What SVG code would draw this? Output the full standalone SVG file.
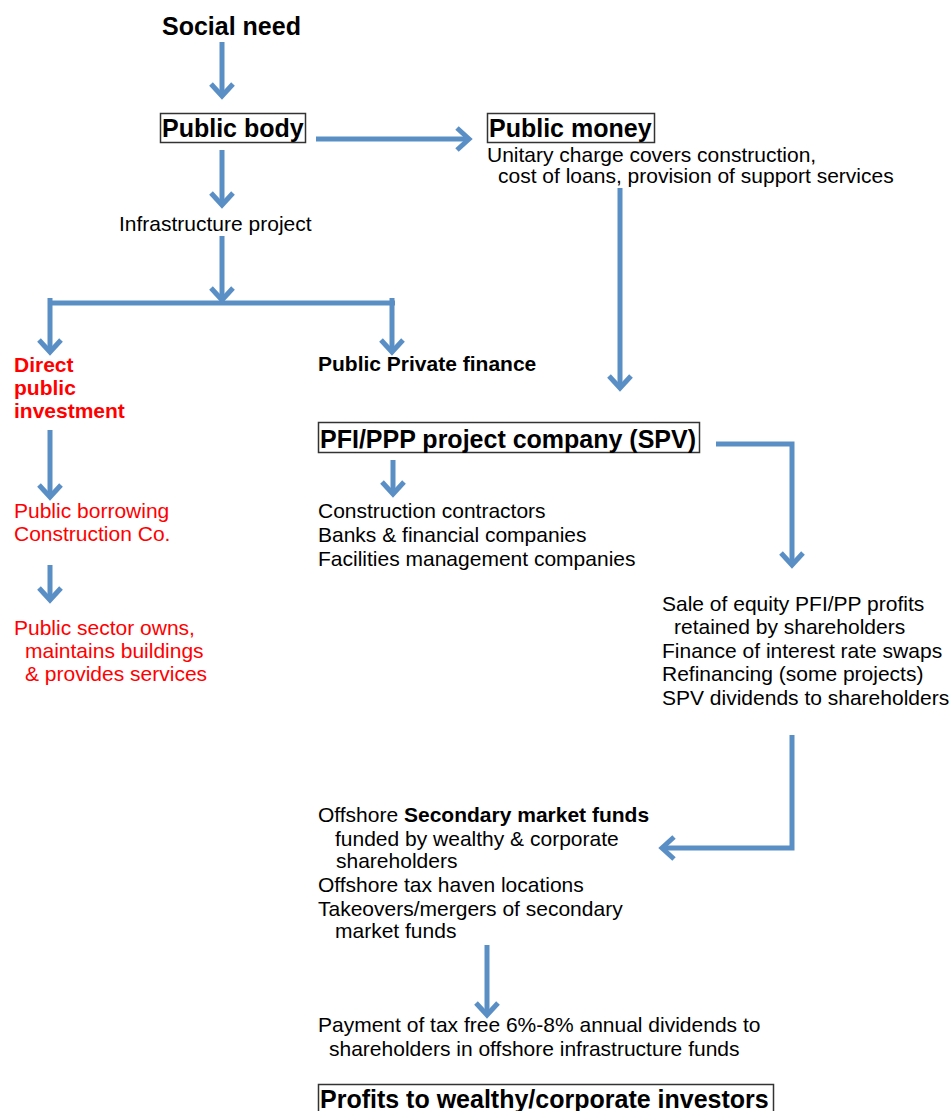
<svg xmlns="http://www.w3.org/2000/svg" width="950" height="1111" viewBox="0 0 950 1111">
<style>
text{font-family:"Liberation Sans",Arial,sans-serif;font-size:21px;fill:#000}
.b{font-weight:bold}
.h{font-weight:bold;font-size:25px}
.r{fill:#ff0000}
.box{fill:none;stroke:#333;stroke-width:1.5}
.c{fill:none;stroke:#5a8fc6;stroke-width:5;marker-end:url(#ah)}
.cn{fill:none;stroke:#5a8fc6;stroke-width:5}
</style>
<defs>
<marker id="ah" markerUnits="userSpaceOnUse" viewBox="-16 -14 20 28" refX="0" refY="0" markerWidth="20" markerHeight="28" orient="auto" overflow="visible">
<path d="M-12,-11 L0,0 L-12,11" fill="none" stroke="#5a8fc6" stroke-width="5"/>
</marker>
</defs>
<rect width="950" height="1111" fill="#fff"/>
<g id="connectors">
<line class="c" x1="222" y1="42" x2="222" y2="96"/>
<line class="c" x1="316" y1="139" x2="469" y2="139"/>
<line class="c" x1="222" y1="150" x2="222" y2="205"/>
<line class="c" x1="222" y1="236" x2="222" y2="300"/>
<line class="cn" x1="48" y1="303" x2="395" y2="303"/>
<line class="c" x1="50" y1="298" x2="50" y2="352"/>
<line class="c" x1="392" y1="298" x2="392" y2="352"/>
<line class="c" x1="620" y1="188" x2="620" y2="388"/>
<line class="c" x1="50" y1="430" x2="50" y2="497"/>
<line class="c" x1="50" y1="565" x2="50" y2="600"/>
<line class="c" x1="393" y1="460" x2="393" y2="494"/>
<polyline class="c" points="716,444 792,444 792,565"/>
<polyline class="c" points="792,735 792,848 662,848"/>
<line class="c" x1="487" y1="945" x2="487" y2="1015"/>
</g>
<g id="social-need"><text class="h" x="162" y="35">Social need</text></g>
<g id="public-body"><rect class="box" x="160.5" y="113.5" width="145" height="29"/><text class="h" x="162" y="137">Public body</text></g>
<g id="public-money"><rect class="box" x="487.5" y="113.5" width="167" height="29"/><text class="h" x="489" y="137">Public money</text>
<text x="487" y="162">Unitary charge covers construction,</text>
<text x="498" y="183">cost of loans, provision of support services</text></g>
<g id="infrastructure"><text x="119" y="231">Infrastructure project</text></g>
<g id="direct"><text class="b r" x="14" y="372">Direct</text><text class="b r" x="14" y="395">public</text><text class="b r" x="14" y="418">investment</text></g>
<g id="ppf"><text class="b" x="318" y="371">Public Private finance</text></g>
<g id="borrowing"><text class="r" x="14" y="518">Public borrowing</text><text class="r" x="14" y="541">Construction Co.</text></g>
<g id="owns"><text class="r" x="14" y="635">Public sector owns,</text><text class="r" x="25" y="658">maintains buildings</text><text class="r" x="25" y="681">&amp; provides services</text></g>
<g id="spv"><rect class="box" x="318.5" y="422.5" width="381" height="30"/><text class="h" x="320" y="448">PFI/PPP project company (SPV)</text></g>
<g id="contractors"><text x="318" y="518">Construction contractors</text><text x="318" y="542">Banks &amp; financial companies</text><text x="318" y="566">Facilities management companies</text></g>
<g id="equity"><text x="662" y="611">Sale of equity PFI/PP profits</text><text x="674" y="634">retained by shareholders</text><text x="662" y="658">Finance of interest rate swaps</text><text x="662" y="681">Refinancing (some projects)</text><text x="662" y="705">SPV dividends to shareholders</text></g>
<g id="offshore"><text x="318" y="822">Offshore <tspan class="b">Secondary market funds</tspan></text><text x="335" y="846">funded by wealthy &amp; corporate</text><text x="336" y="868">shareholders</text><text x="318" y="892">Offshore tax haven locations</text><text x="318" y="916">Takeovers/mergers of secondary</text><text x="335" y="938">market funds</text></g>
<g id="payment"><text x="318" y="1032">Payment of tax free 6%-8% annual dividends to</text><text x="329" y="1056">shareholders in offshore infrastructure funds</text></g>
<g id="profits"><rect class="box" x="318.5" y="1084.5" width="455" height="30"/><text class="h" x="320" y="1108">Profits to wealthy/corporate investors</text></g>
</svg>
